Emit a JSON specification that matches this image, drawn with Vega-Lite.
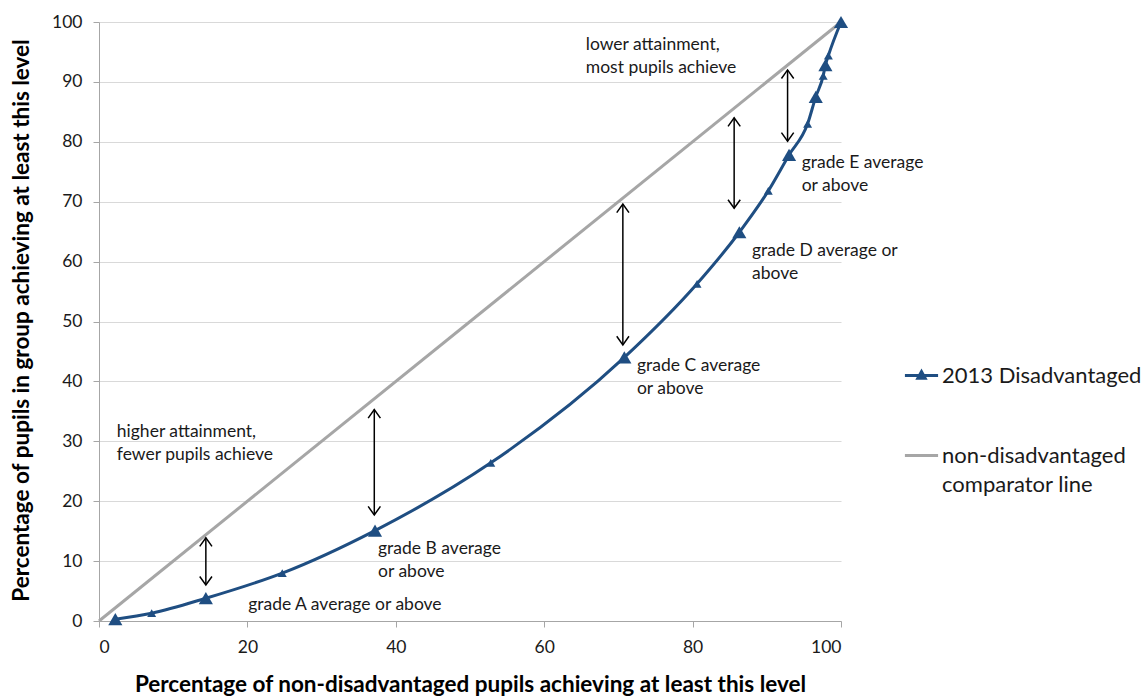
{
  "$schema": "https://vega.github.io/schema/vega-lite/v6.json",
  "width": 742,
  "height": 599,
  "autosize": {"type": "none"},
  "padding": {"left": 99, "top": 22, "right": 301, "bottom": 77},
  "background": "white",
  "config": {
    "view": {"stroke": null},
    "font": "Lato",
    "axis": {
      "domainColor": "#A6A6A6",
      "tickColor": "#A6A6A6",
      "gridColor": "#D9D9D9",
      "labelFont": "Lato",
      "labelFontSize": 17.5,
      "labelColor": "#1a1a1a",
      "titleFont": "Lato",
      "titleFontWeight": "bold",
      "titleColor": "#000000",
      "tickSize": 6
    }
  },
  "datasets": {
    "disadvantaged": [
      {"x": 2.2, "y": 0.3, "kind": "grade"},
      {"x": 7.1, "y": 1.3, "kind": "between"},
      {"x": 14.4, "y": 3.8, "kind": "grade"},
      {"x": 24.7, "y": 8.0, "kind": "between"},
      {"x": 37.2, "y": 15.1, "kind": "grade"},
      {"x": 52.8, "y": 26.4, "kind": "between"},
      {"x": 70.8, "y": 44.0, "kind": "grade"},
      {"x": 80.6, "y": 56.3, "kind": "between"},
      {"x": 86.3, "y": 64.9, "kind": "grade"},
      {"x": 90.2, "y": 71.8, "kind": "between"},
      {"x": 93.0, "y": 77.8, "kind": "grade"},
      {"x": 95.5, "y": 83.0, "kind": "between"},
      {"x": 96.6, "y": 87.5, "kind": "grade"},
      {"x": 97.6, "y": 91.0, "kind": "between"},
      {"x": 97.9, "y": 92.8, "kind": "grade"},
      {"x": 98.3, "y": 94.4, "kind": "between"},
      {"x": 100, "y": 100, "kind": "grade"}
    ],
    "comparator": [
      {"x": 0, "y": 0},
      {"x": 100, "y": 100}
    ],
    "arrows": [
      {"x": 14.4, "top": 13.9, "bottom": 6.0},
      {"x": 37.1, "top": 35.3, "bottom": 17.7},
      {"x": 70.6, "top": 69.6, "bottom": 46.1},
      {"x": 85.6, "top": 84.0, "bottom": 68.9},
      {"x": 92.8, "top": 92.0, "bottom": 80.1}
    ],
    "notes": [
      {"x": 65.6, "y": 97.6, "label": "lower attainment,\nmost pupils achieve"},
      {"x": 2.4, "y": 33.0, "label": "higher attainment,\nfewer pupils achieve"},
      {"x": 20.1, "y": 4.1, "label": "grade A average or above"},
      {"x": 37.6, "y": 13.6, "label": "grade B average\nor above"},
      {"x": 72.5, "y": 44.0, "label": "grade C average\nor above"},
      {"x": 88.0, "y": 63.3, "label": "grade D average or\nabove"},
      {"x": 94.7, "y": 78.0, "label": "grade E average\nor above"}
    ]
  },
  "layer": [
    {
      "data": {"name": "comparator"},
      "mark": {"type": "line", "strokeWidth": 3},
      "encoding": {
        "x": {
          "field": "x", "type": "quantitative",
          "scale": {"domain": [0, 100], "nice": false},
          "axis": {
            "title": "Percentage of non-disadvantaged pupils achieving at least this level",
            "values": [0, 20, 40, 60, 80, 100],
            "grid": false,
            "labelPadding": 11,
            "titleFontSize": 22.5,
            "titlePadding": 18
          }
        },
        "y": {
          "field": "y", "type": "quantitative",
          "scale": {"domain": [0, 100], "nice": false},
          "axis": {
            "title": "Percentage of pupils in group achieving at least this level",
            "values": [0, 10, 20, 30, 40, 50, 60, 70, 80, 90, 100],
            "grid": true,
            "labelPadding": 11,
            "titleFontSize": 22.5,
            "titlePadding": 18,
            "titleY": 298
          }
        },
        "color": {
          "datum": "non-disadvantaged comparator line",
          "scale": {
            "domain": ["2013 Disadvantaged", "non-disadvantaged comparator line"],
            "range": ["#1F4E82", "#A6A6A6"]
          },
          "legend": {
            "orient": "none",
            "legendX": 804,
            "legendY": 335,
            "title": null,
            "labelFont": "Lato",
            "labelFontSize": 22,
            "labelColor": "#1a1a1a",
            "labelLimit": 300,
            "symbolSize": 1100,
            "labelOffset": 2,
            "rowPadding": 50,
            "labelExpr": "datum.label == 'non-disadvantaged comparator line' ? ['non-disadvantaged', 'comparator line'] : datum.label",
            "encode": {
              "labels": {
                "update": {
                  "lineHeight": {"value": 29}
                }
              },
              "symbols": {
                "update": {
                  "shape": {"signal": "datum.value === '2013 Disadvantaged' ? 'M-1,0L1,0M-0.22,0.16L0,-0.24L0.22,0.16Z' : 'M-1,0L1,0'"},
                  "strokeWidth": {"value": 3},
                  "fill": {"scale": "color", "field": "value"},
                  "stroke": {"scale": "color", "field": "value"},
                  "opacity": {"value": 1}
                }
              }
            }
          }
        }
      }
    },
    {
      "data": {"name": "disadvantaged"},
      "mark": {"type": "line", "strokeWidth": 3, "interpolate": "monotone"},
      "encoding": {
        "x": {"field": "x", "type": "quantitative", "scale": {"domain": [0, 100], "nice": false}},
        "y": {"field": "y", "type": "quantitative", "scale": {"domain": [0, 100], "nice": false}},
        "color": {"datum": "2013 Disadvantaged"}
      }
    },
    {
      "data": {"name": "disadvantaged"},
      "mark": {"type": "point", "shape": "triangle-up", "filled": true, "color": "#1F4E82", "opacity": 1},
      "encoding": {
        "x": {"field": "x", "type": "quantitative", "scale": {"domain": [0, 100], "nice": false}},
        "y": {"field": "y", "type": "quantitative", "scale": {"domain": [0, 100], "nice": false}},
        "size": {
          "field": "kind", "type": "nominal",
          "scale": {"domain": ["grade", "between"], "range": [200, 80]},
          "legend": null
        }
      }
    },
    {
      "data": {"name": "arrows"},
      "mark": {"type": "rule", "color": "#000000", "strokeWidth": 1.5},
      "encoding": {
        "x": {"field": "x", "type": "quantitative", "scale": {"domain": [0, 100], "nice": false}},
        "y": {"field": "top", "type": "quantitative", "scale": {"domain": [0, 100], "nice": false}},
        "y2": {"field": "bottom"}
      }
    },
    {
      "data": {"name": "arrows"},
      "mark": {"type": "point", "shape": "M-1,1.4L0,0L1,1.4", "filled": false, "color": "#000000", "strokeWidth": 1.5, "size": 150, "opacity": 1},
      "encoding": {
        "x": {"field": "x", "type": "quantitative", "scale": {"domain": [0, 100], "nice": false}},
        "y": {"field": "top", "type": "quantitative", "scale": {"domain": [0, 100], "nice": false}}
      }
    },
    {
      "data": {"name": "arrows"},
      "mark": {"type": "point", "shape": "M-1,-1.4L0,0L1,-1.4", "filled": false, "color": "#000000", "strokeWidth": 1.5, "size": 150, "opacity": 1},
      "encoding": {
        "x": {"field": "x", "type": "quantitative", "scale": {"domain": [0, 100], "nice": false}},
        "y": {"field": "bottom", "type": "quantitative", "scale": {"domain": [0, 100], "nice": false}}
      }
    },
    {
      "data": {"name": "notes"},
      "mark": {"type": "text", "align": "left", "baseline": "top", "lineBreak": "\n", "fontSize": 17.5, "lineHeight": 23, "font": "Lato", "color": "#1a1a1a"},
      "encoding": {
        "x": {"field": "x", "type": "quantitative", "scale": {"domain": [0, 100], "nice": false}},
        "y": {"field": "y", "type": "quantitative", "scale": {"domain": [0, 100], "nice": false}},
        "text": {"field": "label", "type": "nominal"}
      }
    }
  ]
}
